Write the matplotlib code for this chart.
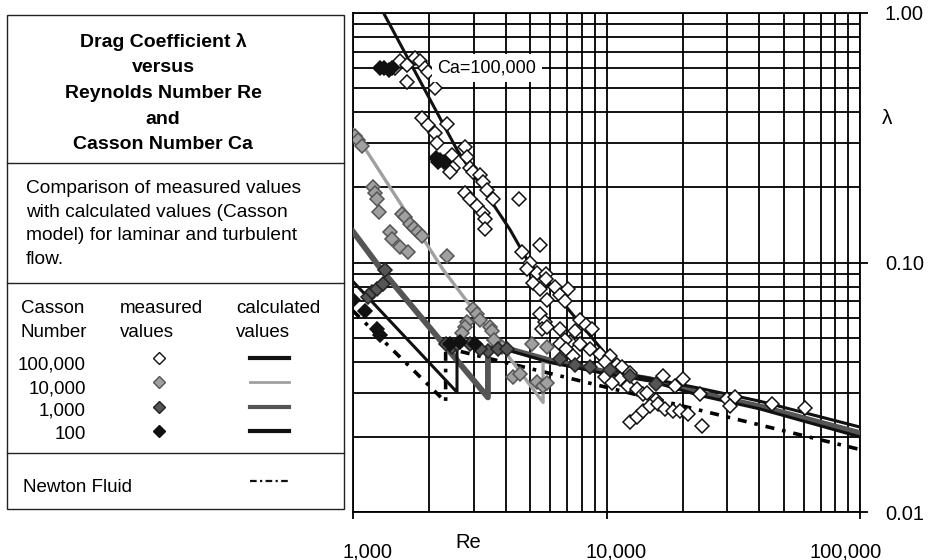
import matplotlib
matplotlib.use("Agg")
import matplotlib.pyplot as plt
import matplotlib.transforms as mtransforms
from matplotlib.lines import Line2D
from matplotlib.patches import Rectangle

plt.rcParams['font.family'] = ['Liberation Sans', 'DejaVu Sans']

# measured values (Re, lambda) per Casson number
meas_100000 = [(1464, 0.60), (1532, 0.64), (1640, 0.62), (1640, 0.53), (1756, 0.66), (1837, 0.64),
               (1923, 0.60), (1970, 0.58), (2105, 0.50), (1870, 0.38), (1970, 0.356), (2105, 0.33),
               (2150, 0.30), (2350, 0.36), (2460, 0.27), (2490, 0.24), (2413, 0.23), (2764, 0.29),
               (2820, 0.265), (2893, 0.24), (2970, 0.23), (3168, 0.225), (3250, 0.21), (3380, 0.196),
               (3560, 0.179), (2764, 0.19), (2893, 0.179), (3080, 0.168), (3250, 0.158), (3315, 0.149),
               (3315, 0.136), (4510, 0.179), (5461, 0.118), (4640, 0.11), (4987, 0.10), (5310, 0.091),
               (5770, 0.09), (4850, 0.094), (5120, 0.083), (5461, 0.078), (5770, 0.086), (6258, 0.080),
               (6548, 0.074), (6852, 0.070), (7040, 0.078), (5820, 0.071), (5461, 0.062), (5715, 0.058),
               (5590, 0.054), (5820, 0.055), (7852, 0.059), (8300, 0.056), (8770, 0.054), (7503, 0.053),
               (7170, 0.048), (7852, 0.047), (8598, 0.045), (9415, 0.043), (10310, 0.042), (9852, 0.040),
               (11000, 0.039), (11500, 0.038), (12360, 0.036), (11290, 0.034), (12150, 0.032),
               (13170, 0.031), (13950, 0.0296), (14400, 0.030), (15700, 0.028), (16700, 0.035),
               (20000, 0.034), (18600, 0.032), (23340, 0.0296), (29950, 0.0283), (32000, 0.029),
               (45000, 0.027), (60500, 0.026), (30650, 0.0265), (12360, 0.0229), (13170, 0.0240),
               (13950, 0.0255), (14820, 0.0265), (15970, 0.027), (17070, 0.0258), (18320, 0.0254),
               (19470, 0.0255), (21000, 0.0246), (23800, 0.0221), (9852, 0.0347), (10540, 0.0330),
               (6548, 0.054), (6852, 0.049), (6548, 0.047), (6950, 0.045), (7400, 0.042)]
meas_10000 = [(1018, 0.32), (1046, 0.31), (1085, 0.294), (1200, 0.20), (1221, 0.19), (1244, 0.179),
              (1266, 0.16), (1399, 0.133), (1430, 0.124), (1560, 0.157), (1603, 0.152), (1678, 0.143),
              (1740, 0.138), (1805, 0.133), (1870, 0.128), (1532, 0.115), (1650, 0.110), (2350, 0.106),
              (2970, 0.065), (3080, 0.062), (3168, 0.059), (2820, 0.058), (2764, 0.055), (2700, 0.052),
              (3469, 0.055), (3530, 0.053), (3600, 0.049), (3870, 0.046), (4260, 0.0347), (4554, 0.0357),
              (5300, 0.0333), (5610, 0.032), (5830, 0.0329), (5100, 0.047), (5830, 0.046)]
meas_1000 = [(1146, 0.073), (1188, 0.076), (1244, 0.078), (1310, 0.082), (1337, 0.093), (2460, 0.046),
             (2580, 0.047), (2330, 0.047), (3400, 0.044), (3720, 0.045), (4060, 0.045), (6548, 0.041),
             (7500, 0.039), (8600, 0.038), (10310, 0.037), (12360, 0.035), (15700, 0.0325),
             (3168, 0.045), (2893, 0.047)]
meas_100 = [(1278, 0.60), (1330, 0.60), (1385, 0.59), (1420, 0.60), (2125, 0.263), (2203, 0.258),
            (2285, 0.253), (2160, 0.253), (1000, 0.071), (1115, 0.064), (1244, 0.054), (1278, 0.051),
            (2413, 0.047), (2642, 0.048), (3027, 0.047)]

# calculated values (Casson model)
calc_re_100000 = [1301, 2572, 4162, 4857, 10320, 11830, 14850, 23380, 40240, 100000]
calc_lam_100000 = [1.028, 0.283, 0.1355, 0.1028, 0.0409, 0.0358, 0.0343, 0.0313, 0.0278, 0.0219]
calc_re_10000 = [1000, 2264, 5621, 5621, 9423, 14850, 23380, 100000]
calc_lam_10000 = [0.340, 0.0938, 0.0275, 0.0400, 0.0370, 0.0345, 0.0303, 0.0209]
calc_re_1000 = [1000, 1290, 3406, 3406, 3800, 5984, 9423, 14850, 23380, 40240, 100000]
calc_lam_1000 = [0.133, 0.094, 0.0288, 0.0449, 0.0460, 0.0405, 0.0368, 0.0340, 0.0299, 0.0265, 0.0207]
calc_re_100 = [1000, 2572, 2572, 3000, 3300, 3800, 5984, 9423, 14850, 23380, 40240, 100000]
calc_lam_100 = [0.0839, 0.0302, 0.047, 0.048, 0.0445, 0.0455, 0.0398, 0.0362, 0.0335, 0.0293, 0.0259, 0.0200]
newton_re = [1000, 2320, 2320, 100000]
newton_lam = [0.064, 0.0276, 0.0455, 0.0178]

W, H = 929, 560
fig = plt.figure(figsize=(W / 100, H / 100), dpi=100)


def fx(x):
    return x / W


def fy(y):
    return 1 - y / H


ax = fig.add_axes([fx(353), fy(512), (860 - 353) / W, (512 - 13) / H])
ax.set_xscale('log')
ax.set_yscale('log')
ax.set_xlim(1000, 100000)
ax.set_ylim(0.01, 1)
ax.grid(True, which='both', color='black', lw=1.3)
ax.set_axisbelow(True)
for s in ax.spines.values():
    s.set_color('black')
    s.set_linewidth(1.3)

ax.yaxis.tick_right()
ax.set_xticks([1000, 10000, 100000])
ax.set_xticklabels(['1,000', '10,000', '100,000'])
ax.set_yticks([0.01, 0.1, 1])
ax.set_yticklabels(['0.01', '0.10', '1.00'])
ax.tick_params(which='minor', length=0)
ax.tick_params(axis='x', which='major', length=5, width=1.3, direction='out', pad=17, labelsize=14.5)
ax.tick_params(axis='y', which='major', length=6, width=1.3, direction='out', pad=12, labelsize=14.5)
for lab, dx in zip(ax.get_xticklabels(), [15, 10, -14]):
    lab.set_transform(lab.get_transform() + mtransforms.ScaledTranslation(dx / 100, 0, fig.dpi_scale_trans))

# calculated curves
ax.plot(newton_re, newton_lam, color='black', lw=2.6, ls=(0, (2.5, 2.2, 1, 2.2)), zorder=3)
ax.plot(calc_re_10000, calc_lam_10000, color='#a0a0a0', lw=2.4, zorder=3)
ax.plot(calc_re_1000, calc_lam_1000, color='#555555', lw=4.2, zorder=3)
ax.plot(calc_re_100, calc_lam_100, color='#111111', lw=2.2, zorder=3)
ax.plot(calc_re_100000, calc_lam_100000, color='#111111', lw=2.2, zorder=3)

mk = dict(ls='none', marker='D', ms=6.8, mew=1.1, zorder=4)
ax.plot([p[0] for p in meas_100000], [p[1] for p in meas_100000], mfc='white', mec='#111111', **mk)
ax.plot([p[0] for p in meas_10000], [p[1] for p in meas_10000], mfc='#a0a0a0', mec='#555555', **mk)
ax.plot([p[0] for p in meas_1000], [p[1] for p in meas_1000], mfc='#555555', mec='#222222', **mk)
ax.plot([p[0] for p in meas_100], [p[1] for p in meas_100], mfc='#111111', mec='#111111', **mk)

ax.text(3378, 0.60, 'Ca=100,000', ha='center', va='center', fontsize=13, zorder=5,
        bbox=dict(facecolor='white', edgecolor='none', pad=4))

fig.text(fx(468), fy(542), 'Re', ha='center', va='center', fontsize=14.5)
fig.text(fx(887), fy(118), 'λ', ha='center', va='center', fontsize=15)

# legend / description box
fig.patches.append(Rectangle((fx(7), fy(509)), (344 - 7) / W, (509 - 15) / H, transform=fig.transFigure,
                             fill=False, edgecolor='#222222', lw=1.0))
for yy in [163, 283, 453]:
    fig.add_artist(Line2D([fx(7), fx(344)], [fy(yy), fy(yy)], color='#222222', lw=1.0))

title_lines = ['Drag Coefficient λ', 'versus', 'Reynolds Number Re', 'and', 'Casson Number Ca']
for i, t in enumerate(title_lines):
    fig.text(fx(163), fy(47 + 25.5 * i), t, ha='center', va='baseline', fontsize=14, fontweight='bold')

body_lines = ['Comparison of measured values', 'with calculated values (Casson',
              'model) for laminar and turbulent', 'flow.']
for i, t in enumerate(body_lines):
    fig.text(fx(26), fy(193 + 23.5 * i), t, ha='left', va='baseline', fontsize=13.8)

fig.text(fx(21), fy(313), 'Casson', fontsize=13.5, va='baseline')
fig.text(fx(21), fy(337), 'Number', fontsize=13.5, va='baseline')
fig.text(fx(120), fy(313), 'measured', fontsize=13.5, va='baseline')
fig.text(fx(120), fy(337), 'values', fontsize=13.5, va='baseline')
fig.text(fx(236), fy(313), 'calculated', fontsize=13.5, va='baseline')
fig.text(fx(236), fy(337), 'values', fontsize=13.5, va='baseline')

ca_labels = ['100,000', '10,000', '1,000', '100']
mk_faces = ['white', '#a0a0a0', '#555555', '#111111']
mk_edges = ['#111111', '#555555', '#222222', '#111111']
ln_colors = ['#111111', '#a0a0a0', '#555555', '#111111']
ln_widths = [3.0, 2.0, 3.0, 3.0]
for i in range(4):
    yb = 370 + 23 * i
    ym = 358 + 24.3 * i
    fig.text(fx(86), fy(yb), ca_labels[i], ha='right', va='baseline', fontsize=13.5)
    fig.add_artist(Line2D([fx(159)], [fy(ym)], ls='none', marker='D', ms=6.5, mew=1.0,
                          mfc=mk_faces[i], mec=mk_edges[i]))
    fig.add_artist(Line2D([fx(250), fx(289)], [fy(ym), fy(ym)], color=ln_colors[i], lw=ln_widths[i]))

fig.text(fx(23), fy(492), 'Newton Fluid', fontsize=13.5, va='baseline')
fig.add_artist(Line2D([fx(250), fx(290)], [fy(481), fy(481)], color='#111111', lw=1.6,
                      ls=(0, (3, 1.5, 1, 1.5))))

fig.savefig('out.png', dpi=100)
